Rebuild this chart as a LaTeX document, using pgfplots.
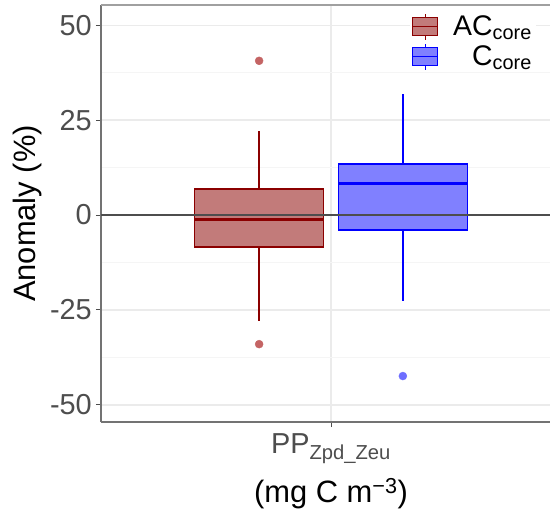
\documentclass[border=0pt]{standalone}
\usepackage{fontspec}
\setmainfont{Liberation Sans}
\usepackage{pgfplots}
\pgfplotsset{compat=1.18}
\definecolor{darkred}{RGB}{139,0,0}
\definecolor{redfill}{RGB}{194,123,122}
\definecolor{bluefill}{RGB}{128,128,255}
\definecolor{redpt}{RGB}{196,100,100}
\definecolor{bluept}{RGB}{110,110,255}
\definecolor{gridmaj}{RGB}{235,235,235}
\definecolor{gridmin}{RGB}{245,245,245}
\definecolor{ticktext}{RGB}{77,77,77}
\definecolor{frame}{RGB}{115,115,115}
\definecolor{topframe}{RGB}{160,160,160}
\definecolor{zeroline}{RGB}{77,77,77}
\begin{document}
\begin{tikzpicture}
\begin{axis}[
  scale only axis, width=460bp, height=417bp,
  xmin=0.4, xmax=1.6, ymin=-54.5, ymax=55.3,
  axis x line*=bottom, axis y line*=left,
  xtick={1}, xticklabels={PP\textsubscript{Zpd\_Zeu}},
  ytick={-50,-25,0,25,50},
  minor ytick={-37.5,-12.5,12.5,37.5},
  ymajorgrids, yminorgrids, xmajorgrids,
  major grid style={draw=gridmaj, line width=1.2bp},
  minor grid style={draw=gridmin, line width=1bp},
  major tick length=5bp,
  minor tick style={draw=none},
  tick align=outside,
  tick style={draw=ticktext, line width=1bp},
  axis line style={draw=frame, line width=1.2bp},
  ticklabel style={font=\fontsize{29}{31}\selectfont, text=ticktext},
  /pgf/number format/assume math mode=true,
  yticklabel style={anchor=east, inner sep=0pt, xshift=-4bp},
  xticklabel style={anchor=base, inner sep=0pt, yshift=-26bp, text=ticktext},
  ylabel={Anomaly (\%)},
  xlabel={(mg C m\textsuperscript{−3})},
  every axis y label/.style={at={(axis description cs:0,0.5)}, xshift=-73bp, rotate=90, anchor=center,
    font=\fontsize{31}{33}\selectfont, text=black},
  every axis x label/.style={at={(axis description cs:0.5,0)}, yshift=-80bp, anchor=base,
    font=\fontsize{31}{33}\selectfont, text=black},
  legend style={at={(0.9457,0.986)}, anchor=north east, draw=none, fill=white,
    font=\fontsize{28.5}{30}\selectfont, row sep=3bp, inner sep=2bp,
    /tikz/every odd column/.append style={column sep=13bp}},
  legend cell align=right,
]
\addlegendimage{legend image code/.code={
  \draw[draw=darkred, fill=redfill, line width=1.2bp] (0bp,-9bp) rectangle (25bp,9bp);
  \draw[draw=darkred, line width=1.2bp] (0bp,0bp)--(25bp,0bp) (12.5bp,9bp)--(12.5bp,13bp) (12.5bp,-9bp)--(12.5bp,-13bp);
}}
\addlegendentry{AC\textsubscript{core}}
\addlegendimage{legend image code/.code={
  \draw[draw=blue, fill=bluefill, line width=1.2bp] (0bp,-9bp) rectangle (25bp,9bp);
  \draw[draw=blue, line width=1.2bp] (0bp,0bp)--(25bp,0bp) (12.5bp,9bp)--(12.5bp,13bp) (12.5bp,-9bp)--(12.5bp,-13bp);
}}
\addlegendentry{C\textsubscript{core}}

% top panel border
\addplot[forget plot, draw=topframe, line width=1.5bp, mark=none] coordinates {(0.4,55.3) (1.6,55.3)};
% AC_core box
\addplot[forget plot, draw=darkred, line width=1.5bp] coordinates {(0.8125,6.8) (0.8125,22.1)};
\addplot[forget plot, draw=darkred, line width=1.5bp] coordinates {(0.8125,-8.4) (0.8125,-27.9)};
\addplot[forget plot, draw=darkred, fill=redfill, line width=1.5bp] coordinates {(0.644,-8.4) (0.981,-8.4) (0.981,6.8) (0.644,6.8)} -- cycle;
\addplot[forget plot, draw=darkred, line width=3bp] coordinates {(0.644,-1.1) (0.981,-1.1)};
\addplot[forget plot, only marks, mark=*, mark size=4bp, draw=redpt, fill=redpt] coordinates {(0.8125,40.6) (0.8125,-34.0)};
% C_core box
\addplot[forget plot, draw=blue, line width=1.5bp] coordinates {(1.1875,13.4) (1.1875,31.8)};
\addplot[forget plot, draw=blue, line width=1.5bp] coordinates {(1.1875,-3.9) (1.1875,-22.6)};
\addplot[forget plot, draw=blue, fill=bluefill, line width=1.5bp] coordinates {(1.019,-3.9) (1.356,-3.9) (1.356,13.4) (1.019,13.4)} -- cycle;
\addplot[forget plot, draw=blue, line width=3bp] coordinates {(1.019,8.4) (1.356,8.4)};
\addplot[forget plot, only marks, mark=*, mark size=4bp, draw=bluept, fill=bluept] coordinates {(1.1875,-42.4)};
% zero line
\addplot[forget plot, draw=zeroline, line width=1.5bp, mark=none] coordinates {(0.4,0) (1.6,0)};
\end{axis}
\pgfresetboundingbox
\path ([shift={(-101bp,-91bp)}]current axis.south west) rectangle ++(550bp,513bp);
\end{tikzpicture}
\end{document}
